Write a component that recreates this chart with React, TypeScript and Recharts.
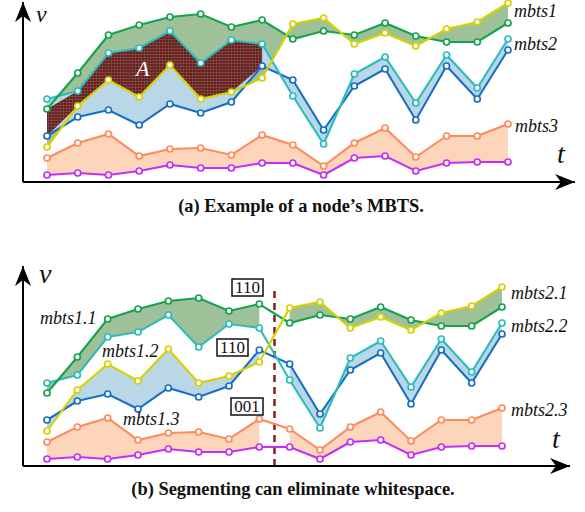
import { Area, ComposedChart, Line, ReferenceLine, XAxis, YAxis } from "recharts";

// time steps (x positions)
const steps = [0, 1, 2, 3, 4, 5, 6, 7, 8, 9, 10, 11, 12, 13, 14, 15];

// six time series
const green = [73, 109, 147, 157, 165, 168, 155, 162, 143, 151, 147, 159, 146, 140, 140, 159];
const yellow = [35, 76, 102, 85, 117, 83, 90, 104, 158, 164, 138, 149, 136, 153, 160, 179];
const cyan = [83, 91, 129, 134, 151, 119, 142, 138, 86, 38, 108, 125, 79, 127, 94, 143];
const blue = [46, 65, 72, 57, 78, 69, 80, 116, 102, 52, 96, 113, 62, 116, 83, 132];
const orange = [24, 39, 48, 26, 33, 34, 27, 47, 37, 16, 39, 54, 25, 46, 46, 58];
const magenta = [7, 9, 7, 11, 17, 14, 14, 19, 19, 7, 24, 26, 11, 19, 20, 20];

// panel (b) is split into two segments, the second starts here
const splitAt = 8;
const segmentCodes = ["110", "110", "001"];

const C = {
  green: "#17a24e",
  greenFill: "#9ec19a",
  yellow: "#d6d100",
  cyan: "#2cbcbc",
  blue: "#1a6fc4",
  blueFill: "#bad7e8",
  orange: "#ff8a5c",
  orangeFill: "#fdd5ba",
  magenta: "#c52ef5",
};

// overlap of the mbts1 and mbts2 envelopes (region A)
function overlapAt(i: number) {
  const lo = Math.max(Math.min(green[i], yellow[i]), Math.min(cyan[i], blue[i]));
  const hi = Math.min(Math.max(green[i], yellow[i]), Math.max(cyan[i], blue[i]));
  return lo < hi ? [lo, hi] : null;
}

const rowsA = steps.map((i) => ({
  i,
  green: green[i],
  yellow: yellow[i],
  cyan: cyan[i],
  blue: blue[i],
  orange: orange[i],
  magenta: magenta[i],
  band1: [yellow[i], green[i]],
  band2: [blue[i], cyan[i]],
  band3: [magenta[i], orange[i]],
  overlap: overlapAt(i),
}));

const rowsB = steps.map((i) => {
  const first = i < splitAt;
  return {
    i,
    green: green[i],
    yellow: yellow[i],
    cyan: cyan[i],
    blue: blue[i],
    orange: orange[i],
    magenta: magenta[i],
    s1Top: first ? [cyan[i], green[i]] : null,
    s1Mid: first ? [blue[i], yellow[i]] : null,
    s1Low: first ? [magenta[i], orange[i]] : null,
    s2Top: !first ? [yellow[i], green[i]] : null,
    s2Mid: !first ? [blue[i], cyan[i]] : null,
    s2Low: !first ? [magenta[i], orange[i]] : null,
  };
});

const seriesOrder: [string, string][] = [
  ["magenta", C.magenta],
  ["orange", C.orange],
  ["blue", C.blue],
  ["cyan", C.cyan],
  ["green", C.green],
  ["yellow", C.yellow],
];

function Defs({ id }: { id: string }) {
  return (
    <defs>
      <marker
        id={`arrow-${id}`}
        viewBox="-20 -8 20 16"
        refX={0}
        refY={0}
        markerWidth={20}
        markerHeight={16}
        markerUnits="userSpaceOnUse"
        orient="auto-start-reverse"
      >
        <path d="M0,0 L-20,-8 L-14,0 L-20,8 Z" fill="#000" />
      </marker>
      <pattern id={`hatch-${id}`} width={3} height={3} patternUnits="userSpaceOnUse">
        <rect width={3} height={3} fill="#6a1c1e" />
        <path d="M0,0.5 H3" stroke="#a8393a" strokeWidth={0.8} />
        <path d="M0.5,0 V3" stroke="#55604a" strokeWidth={0.7} />
      </pattern>
    </defs>
  );
}

function renderLines() {
  return seriesOrder.map(([key, color]) => (
    <Line
      key={key}
      type="linear"
      dataKey={key}
      stroke={color}
      strokeWidth={2.1}
      dot={{ r: 3, fill: "#fff", stroke: color, strokeWidth: 1.7 }}
      activeDot={false}
      isAnimationActive={false}
    />
  ));
}

function band(key: string, fill: string) {
  return (
    <Area
      key={key}
      type="linear"
      dataKey={key}
      stroke="none"
      fill={fill}
      fillOpacity={1}
      dot={false}
      activeDot={false}
      isAnimationActive={false}
    />
  );
}

function axes(id: string, top: number, padRight: number) {
  return [
    <XAxis
      key="x"
      type="number"
      dataKey="i"
      domain={[0, 15]}
      padding={{ left: 24, right: padRight }}
      height={1}
      tick={false}
      tickLine={false}
      axisLine={{ stroke: "#000", strokeWidth: 2, markerEnd: `url(#arrow-${id})` }}
    />,
    <YAxis
      key="y"
      type="number"
      domain={[0, top]}
      width={1}
      tick={false}
      tickLine={false}
      axisLine={{ stroke: "#000", strokeWidth: 2, markerStart: `url(#arrow-${id})` }}
    />,
  ];
}

const serif = "'Liberation Serif', 'DejaVu Serif', serif";

export default function App() {
  const label = { fontFamily: serif, fontStyle: "italic", fontSize: 18, fill: "#111" } as const;
  const axisLabel = { fontFamily: serif, fontStyle: "italic", fontSize: 28, fill: "#111" } as const;
  const caption = { fontFamily: serif, fontWeight: 700, fontSize: 18.4, fill: "#111" } as const;
  const boxText = { fontFamily: serif, fontSize: 17, fill: "#111" } as const;

  return (
    <div style={{ position: "absolute", left: 0, top: 0, width: 585, height: 512, background: "#fff" }}>
      <div style={{ position: "absolute", left: 0, top: 0 }}>
        <ComposedChart width={585} height={190} data={rowsA} margin={{ top: 2, right: 10, bottom: 7, left: 22 }}>
          <Defs id="a" />
          {axes("a", 180, 67)}
          {band("band1", C.greenFill)}
          {band("band2", C.blueFill)}
          {band("overlap", "url(#hatch-a)")}
          {band("band3", C.orangeFill)}
          {renderLines()}
        </ComposedChart>
      </div>

      <div style={{ position: "absolute", left: 0, top: 250 }}>
        <ComposedChart width={585} height={225} data={rowsB} margin={{ top: 16, right: 15, bottom: 8, left: 22 }}>
          <Defs id="b" />
          {axes("b", 200, 68)}
          {band("s1Top", C.greenFill)}
          {band("s1Mid", C.blueFill)}
          {band("s1Low", C.orangeFill)}
          {band("s2Top", C.greenFill)}
          {band("s2Mid", C.blueFill)}
          {band("s2Low", C.orangeFill)}
          <ReferenceLine
            segment={[
              { x: splitAt - 0.5, y: 0 },
              { x: splitAt - 0.5, y: 178 },
            ]}
            stroke="#8e1b22"
            strokeWidth={2.5}
            strokeDasharray="7 5"
          />
          {renderLines()}
        </ComposedChart>
      </div>

      <svg
        width={585}
        height={512}
        style={{ position: "absolute", left: 0, top: 0, pointerEvents: "none" }}
      >
        {/* panel (a) */}
        <text x={36} y={22} {...axisLabel} fontSize={24}>v</text>
        <text x={557} y={163} {...axisLabel}>t</text>
        <text x={136} y={76} {...label} fontSize={22} fill="#fff">A</text>
        <text x={514} y={17} {...label}>mbts1</text>
        <text x={514} y={50} {...label}>mbts2</text>
        <text x={515} y={132} {...label}>mbts3</text>
        <text x={301} y={212} textAnchor="middle" {...caption}>
          (a) Example of a node’s MBTS.
        </text>

        {/* panel (b) */}
        <text x={39} y={283} {...axisLabel}>v</text>
        <text x={552} y={448} {...axisLabel}>t</text>
        <text x={40} y={324} {...label}>mbts1.1</text>
        <text x={102} y={357} {...label}>mbts1.2</text>
        <text x={123} y={425} {...label}>mbts1.3</text>
        <text x={511} y={299} {...label}>mbts2.1</text>
        <text x={511} y={332} {...label}>mbts2.2</text>
        <text x={511} y={416} {...label}>mbts2.3</text>

        <rect x={232} y={279} width={31} height={17} fill="#fff" stroke="#111" strokeWidth={1.5} />
        <text x={247.5} y={293} textAnchor="middle" {...boxText}>{segmentCodes[0]}</text>
        <rect x={217} y={339} width={31} height={17} fill="#fff" stroke="#111" strokeWidth={1.5} />
        <text x={232.5} y={353} textAnchor="middle" {...boxText}>{segmentCodes[1]}</text>
        <rect x={231} y={398} width={32} height={17} fill="#fff" stroke="#111" strokeWidth={1.5} />
        <text x={247} y={412} textAnchor="middle" {...boxText}>{segmentCodes[2]}</text>

        <text x={293} y={495} textAnchor="middle" {...caption}>
          (b) Segmenting can eliminate whitespace.
        </text>
      </svg>
    </div>
  );
}
